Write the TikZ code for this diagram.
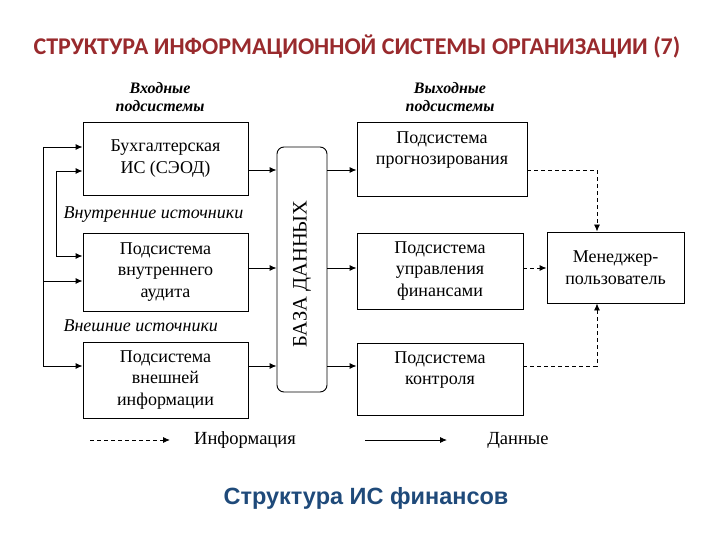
\documentclass[tikz,border=0pt]{standalone}
\usepackage{fontspec}
\setmainfont{Liberation Serif}
\newfontfamily\titlefont{Carlito}
\newfontfamily\subfont{Liberation Sans}
\usetikzlibrary{arrows.meta}
\definecolor{titlered}{HTML}{992A2D}
\definecolor{subblue}{HTML}{1F4A7A}
\begin{document}
\begin{tikzpicture}[x=1pt,y=-1pt,
  box/.style={draw, line width=0.9pt, align=center, inner sep=0pt,
    font=\fontsize{18}{21.5}\selectfont},
  data/.style={line width=0.9pt, -{Latex[length=7pt,width=6pt]}},
  info/.style={line width=0.9pt, dash pattern=on 4pt off 3pt, -{Latex[length=7pt,width=6pt]}},
  bus/.style={line width=0.9pt},
  hdr/.style={font=\fontsize{16}{18.5}\selectfont\bfseries\itshape, align=center},
  src/.style={font=\fontsize{18}{20}\selectfont\itshape, anchor=west},
  leg/.style={font=\fontsize{18.5}{20}\selectfont}]
\useasboundingbox (0,0) rectangle (720,540);

% title
\node[font=\titlefont\bfseries\fontsize{24}{26}\selectfont, text=titlered] (title) at (357,47) {СТРУКТУРА ИНФОРМАЦИОННОЙ СИСТЕМЫ ОРГАНИЗАЦИИ (7)};

% headers
\node[hdr] (hin) at (160,97) {Входные\\подсистемы};
\node[hdr] (hout) at (450,97) {Выходные\\подсистемы};

% input boxes
\node[box, minimum width=165pt, minimum height=73pt] (b1) at (165.5,158.5) {Бухгалтерская\\ИС (СЭОД)};
\node[box, minimum width=165pt, minimum height=78pt] (b2) at (165.5,272) {Подсистема\\внутреннего\\аудита};
\node[box, minimum width=165pt, minimum height=76pt] (b3) at (165.5,380) {Подсистема\\внешней\\информации};

\node[src] (sin) at (60,215) {Внутренние источники};
\node[src] (sex) at (60,326) {Внешние источники};

% database
\node[draw, line width=0.9pt, rounded corners=7pt, minimum width=50pt, minimum height=245pt, inner sep=0pt] (db) at (302,269.5) {};
\node[rotate=90, font=\fontsize{20.5}{22}\selectfont] (dbt) at (302,274) {БАЗА ДАННЫХ};

% output boxes
\node[box, minimum width=170pt, minimum height=74pt] (b4) at (442,159) {Подсистема\\прогнозирования\\~};
\node[box, minimum width=166pt, minimum height=76pt] (b5) at (440,271) {Подсистема\\управления\\финансами};
\node[box, minimum width=166pt, minimum height=72pt] (b6) at (440,379) {Подсистема\\контроля\\~};
\node[box, minimum width=137pt, minimum height=71pt] (mgr) at (615.5,267.5) {Менеджер-\\пользователь};

% rows and buses
\coordinate (r1) at (0,170);
\coordinate (r2) at (0,268);
\coordinate (r3) at (0,366);
\coordinate (a1) at (43,147);
\coordinate (a2) at (43,281);
\coordinate (a3) at (43,366);
\coordinate (c1) at (56,171);
\coordinate (c2) at (56,256);
\coordinate (mx) at (597,0);

\draw[bus] (a1) -- (a3);
\draw[bus] (c1) -- (c2);
\draw[data] (a1) -- (a1 -| b1.west);
\draw[data] (c1) -- (c1 -| b1.west);
\draw[data] (c2) -- (c2 -| b2.west);
\draw[data] (a2) -- (a2 -| b2.west);
\draw[data] (a3) -- (a3 -| b3.west);

\draw[data] (r1 -| b1.east) -- (r1 -| db.west);
\draw[data] (r2 -| b2.east) -- (r2 -| db.west);
\draw[data] (r3 -| b3.east) -- (r3 -| db.west);

\draw[data] (r1 -| db.east) -- (r1 -| b4.west);
\draw[data] (r2 -| db.east) -- (r2 -| b5.west);
\draw[data] (r3 -| db.east) -- (r3 -| b6.west);

\draw[info] (r1 -| b4.east) -| (mx |- mgr.north);
\draw[info] (r2 -| b5.east) -- (r2 -| mgr.west);
\draw[info] (r3 -| b6.east) -| (mx |- mgr.south);

% legend
\coordinate (l1) at (90,440);
\coordinate (l2) at (170,440);
\coordinate (l3) at (365,440);
\coordinate (l4) at (447,440);
\draw[info] (l1) -- (l2);
\node[leg] (linf) at (245,440) {Информация};
\draw[data] (l3) -- (l4);
\node[leg] (ldat) at (518,440) {Данные};

% subtitle
\node[font=\subfont\bfseries\fontsize{23.5}{26}\selectfont, text=subblue] (sub) at (366,498) {Структура ИС финансов};
\end{tikzpicture}
\end{document}
